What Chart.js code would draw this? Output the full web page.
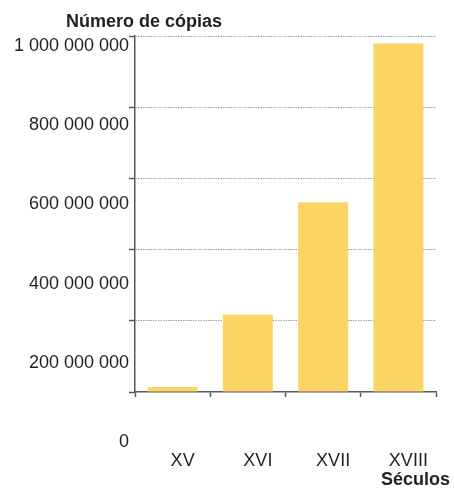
<!DOCTYPE html>
<html>
<head>
<meta charset="utf-8">
<script src="https://cdn.jsdelivr.net/npm/chart.js@4"></script>
<style>
  body { margin: 0; background: #fff; }
  #wrap { position: relative; width: 454px; height: 488px; }
  .lbl { position: absolute; font: bold 18px "Liberation Sans", Arial, sans-serif; line-height: 18px; color: #231f20; white-space: nowrap; }
</style>
</head>
<body>
<div id="wrap">
  <canvas id="copies-chart"></canvas>
  <div class="lbl" style="left:66px; top:12px;">Número de cópias</div>
  <div class="lbl" style="right:4px; top:470px;">Séculos</div>
</div>
<script>
var centuries = ["XV", "XVI", "XVII", "XVIII"];
var copies = [14000000, 217000000, 533000000, 979000000];
var yTicks = ["0", "200 000 000", "400 000 000", "600 000 000", "800 000 000", "1 000 000 000"];

var barColor = "#fdd466";
var inkColor = "#231f20";
var axisColor = "#58595b";

new Chart("copies-chart", {
  type: "bar",
  data: {
    labels: centuries,
    datasets: [{
      data: copies,
      backgroundColor: barColor,
      categoryPercentage: 1,
      barPercentage: 0.665
    }]
  },
  options: {
    responsive: true,
    maintainAspectRatio: false,
    animation: false,
    layout: { padding: { left: 0, right: 18, top: 36, bottom: 17 } },
    plugins: {
      legend: { display: false },
      tooltip: { enabled: false }
    },
    scales: {
      x: {
        // big label gap under the axis; keep it out of the size calc
        afterFit: function (axis) {
          axis.height = 79;
          axis.paddingLeft = 0;
          axis.paddingRight = 0;
        },
        grid: {
          drawOnChartArea: false,
          tickLength: 5,
          tickColor: axisColor,
          tickWidth: 1.5
        },
        border: { color: axisColor, width: 1.5 },
        ticks: {
          color: inkColor,
          font: { family: "'Liberation Sans', Arial, sans-serif", size: 18 },
          padding: 53,
          labelOffset: 10,
          maxRotation: 0
        }
      },
      y: {
        min: 0,
        max: 1000000000,
        afterFit: function (axis) { axis.width = 135; },
        grid: {
          color: function (ctx) { return ctx.index === 0 ? "rgba(0,0,0,0)" : "#a0a0a0"; },
          lineWidth: 1,
          tickLength: 6,
          tickColor: axisColor,
          tickWidth: 1.5
        },
        border: { color: axisColor, width: 1.5, dash: [1.5, 1] },
        ticks: {
          stepSize: 200000000,
          autoSkip: false,
          padding: 0,
          labelOffset: 2,
          color: inkColor,
          font: { family: "'Liberation Sans', Arial, sans-serif", size: 18, lineHeight: "16px" },
          // labels sit lower than their grid lines, more so toward zero
          callback: function (value, index) {
            var lines = [];
            for (var i = 0; i < 6 - index; i++) lines.push("");
            lines.push(yTicks[index]);
            return lines;
          }
        }
      }
    }
  }
});
</script>
</body>
</html>
